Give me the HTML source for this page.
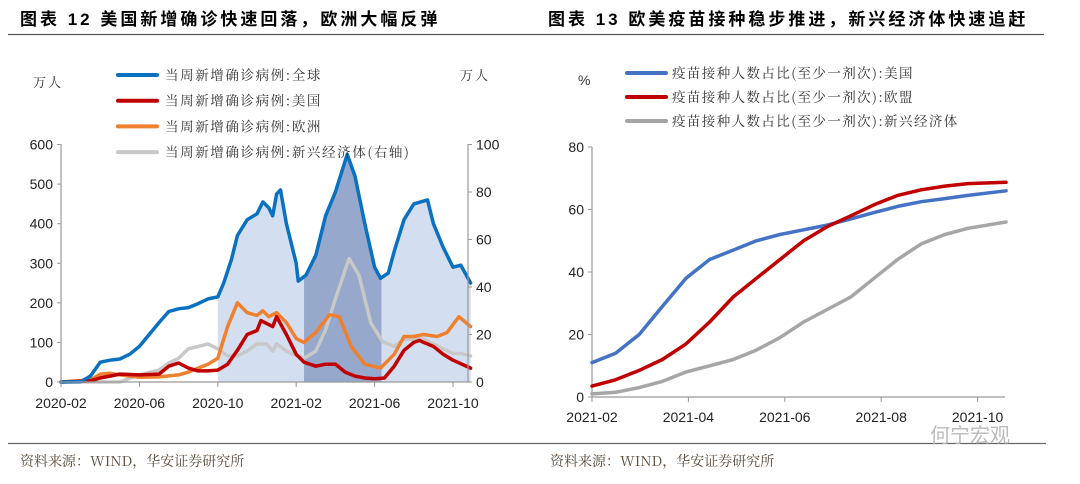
<!DOCTYPE html>
<html><head><meta charset="utf-8"><style>
body{margin:0;background:#fff;}
svg text{font-family:"Liberation Sans","Noto Sans CJK SC",sans-serif;}
.cjk{font-family:"Noto Serif CJK SC","Liberation Serif",serif;}
</style></head><body>
<svg id="s" width="1080" height="479" viewBox="0 0 1080 479" xmlns="http://www.w3.org/2000/svg">
<text x="20" y="25" font-size="17" font-weight="bold" letter-spacing="3">图表 12 美国新增确诊快速回落，欧洲大幅反弹</text>
<text x="548" y="25" font-size="17" font-weight="bold" letter-spacing="3">图表 13 欧美疫苗接种稳步推进，新兴经济体快速追赶</text>
<line x1="8" y1="34.5" x2="1044" y2="34.5" stroke="#555" stroke-width="1.2"/>
<line x1="8" y1="443.5" x2="1046" y2="443.5" stroke="#666" stroke-width="1.2"/>
<text x="20" y="466" font-size="14" fill="#5a4a3a" class="cjk">资料来源：WIND，华安证券研究所</text>
<text x="550" y="466" font-size="14" fill="#5a4a3a" class="cjk">资料来源：WIND，华安证券研究所</text>
<text x="930" y="442" font-size="20" fill="#bbb">何宁宏观</text>
<g id="L"></g>
<g id="R"></g>
</svg>
<script>
// ---- Left chart data (t = months since 2020-02) ----
const blueT=[0,1,1.5,2,2.5,3,3.5,4,4.5,5,5.5,6,6.5,7,7.5,8,8.3,8.7,9,9.5,10,10.3,10.6,10.8,11,11.2,11.5,12,12.1,12.5,13,13.5,14,14.6,15,15.5,16,16.3,16.7,17,17.5,18,18.7,19,19.5,20,20.4,20.9];
const blueV=[0,1,15,50,55,58,70,90,120,150,178,185,188,198,210,215,250,310,370,410,425,455,440,420,475,485,400,300,255,270,320,420,480,575,520,400,290,262,275,330,410,450,460,400,340,290,295,250];
const redT=[0,1.5,2,2.5,3,4,5,5.5,6,6.5,7,7.5,8,8.5,9,9.5,10,10.2,10.8,11,11.5,12,12.4,13,13.5,14,14.5,15,15.5,16,16.5,17,17.5,18,18.3,18.5,19,19.5,20,20.9];
const redV=[0,3,10,15,20,18,20,40,48,35,28,28,30,45,80,120,130,155,140,165,120,70,50,40,45,45,25,15,10,8,10,40,80,100,105,100,90,70,55,35];
const orangeT=[0,1.5,2,2.5,3,4,5,6,6.5,7,7.5,8,8.5,9,9.5,10,10.3,10.6,11,11.5,12,12.4,13,13.7,14.2,14.8,15.5,16.3,17,17.5,18,18.5,19.2,19.7,20.3,20.9];
const orangeV=[0,5,20,22,18,12,13,18,25,35,45,60,140,200,175,168,180,165,175,150,110,100,125,170,165,90,45,35,70,115,115,120,115,125,165,140];
const grayT=[0,3,4,5,5.5,6,6.5,7,7.5,8,8.5,9,9.5,10,10.5,10.8,11,11.5,12,12.4,13,13.5,14,14.7,15.2,15.8,16.4,17,17.5,18,18.5,19,19.5,20,20.4,20.9];
const grayV=[0,0,3,5,8,10,14,15,16,14,11,11,13,16,16,13,16,13,11,10,13,22,35,52,45,25,17,15,18,18,18,16,14,12,12,11];
const leftTicks=[0,100,200,300,400,500,600];
const rightTicks=[0,20,40,60,80,100];
const leftXLabels=["2020-02","2020-06","2020-10","2021-02","2021-06","2021-10"];
const lightStart=8, darkStart=12.4, darkEnd=16.35;

// ---- Right chart data (t = months since 2021-02) ----
const usT=[0,0.49,0.98,1.46,1.95,2.44,2.93,3.41,3.9,4.39,4.88,5.37,5.85,6.34,6.83,7.32,7.8,8.59];
const usV=[11,14,20,29,38,44,47,50,52,53.5,55,57,59,61,62.5,63.5,64.5,66];
const euT=[0,0.49,0.98,1.46,1.95,2.44,2.93,3.41,3.9,4.39,4.88,5.37,5.85,6.34,6.83,7.32,7.8,8.59];
const euV=[3.5,5.5,8.5,12,17,24,32,38,44,50,54.5,58,61.5,64.5,66.3,67.5,68.3,68.7];
const emT=[0,0.49,0.98,1.46,1.95,2.44,2.93,3.41,3.9,4.39,4.88,5.37,5.85,6.34,6.83,7.32,7.8,8.59];
const emV=[1,1.5,3,5,8,10,12,15,19,24,28,32,38,44,49,52,54,56];
const vTicks=[0,20,40,60,80];
const vXLabels=["2021-02","2021-04","2021-06","2021-08","2021-10"];

const NS="http://www.w3.org/2000/svg";
function mk(parent,tag,attrs,text){const e=document.createElementNS(NS,tag);for(const k in attrs)e.setAttribute(k,attrs[k]);if(text!==undefined)e.textContent=text;parent.appendChild(e);return e;}
function interp(T,V,t){if(t<=T[0])return V[0];for(let i=1;i<T.length;i++){if(t<=T[i]){const f=(t-T[i-1])/(T[i]-T[i-1]);return V[i-1]+f*(V[i]-V[i-1]);}}return V[V.length-1];}

// Left scales
const lx=t=>61+19.6*t, ly=v=>382-v*(237.5/600), ry=v=>382-v*(237.5/100);
const L=document.getElementById('L');
function areaPath(a,b){let d=`M${lx(a)},${ly(0)}`;const pts=[a,...blueT.filter(t=>t>a&&t<b),b];pts.forEach(t=>{d+=` L${lx(t)},${ly(interp(blueT,blueV,t))}`});d+=` L${lx(b)},${ly(0)} Z`;return d;}
let e=mk(L,'path',{d:areaPath(lightStart,20.9),fill:'#d3dff0'});


e=mk(L,'path',{d:areaPath(darkStart,darkEnd),fill:'#96a9cc'});


function line(g,T,V,xf,yf,color,name,w){const d=T.map((t,i)=>(i?'L':'M')+xf(t).toFixed(1)+','+yf(V[i]).toFixed(1)).join(' ');const p=mk(g,'path',{d:d,fill:'none',stroke:color,'stroke-width':w,'stroke-linejoin':'round','stroke-linecap':'round'});}
line(L,grayT,grayV,lx,ry,'#c8c8c8','line-emerging',3.5);
line(L,orangeT,orangeV,lx,ly,'#ef8030','line-europe',3.5);
line(L,redT,redV,lx,ly,'#c00000','line-us',3.5);
line(L,blueT,blueV,lx,ly,'#0a70c0','line-global',3.5);
mk(L,'line',{x1:61,y1:144,x2:61,y2:382,stroke:'#999','stroke-width':1.2});
mk(L,'line',{x1:468,y1:144,x2:468,y2:382,stroke:'#999','stroke-width':1.2});
mk(L,'line',{x1:61,y1:382,x2:470,y2:382,stroke:'#999','stroke-width':1.2});
leftTicks.forEach(v=>{mk(L,'line',{x1:57,y1:ly(v),x2:61,y2:ly(v),stroke:'#999'});const t=mk(L,'text',{x:53,y:ly(v)+5,'text-anchor':'end','font-size':14,fill:'#222'},v);});
rightTicks.forEach(v=>{mk(L,'line',{x1:468,y1:ry(v),x2:472,y2:ry(v),stroke:'#999'});const t=mk(L,'text',{x:476,y:ry(v)+5,'font-size':14,fill:'#222'},v);});
leftXLabels.forEach((s,i)=>{const x=lx(i*4);mk(L,'line',{x1:x,y1:382,x2:x,y2:387,stroke:'#999'});const t=mk(L,'text',{x:x,y:408,'text-anchor':'middle','font-size':14,fill:'#222'},s);});
e=mk(L,'text',{x:33,y:87,'font-size':13,fill:'#333',class:'cjk','letter-spacing':2},'万人');


e=mk(L,'text',{x:460,y:80,'font-size':13,fill:'#333',class:'cjk','letter-spacing':2},'万人');


const legL=[['#0a70c0','当周新增确诊病例:全球'],['#c00000','当周新增确诊病例:美国'],['#ef8030','当周新增确诊病例:欧洲'],['#c8c8c8','当周新增确诊病例:新兴经济体(右轴)']];
legL.forEach((l,i)=>{const y=75+i*25.7;mk(L,'line',{x1:118,y1:y,x2:157,y2:y,stroke:l[0],'stroke-width':4,'stroke-linecap':'round'});const t=mk(L,'text',{x:165,y:y+5,'font-size':13.5,fill:'#333',class:'cjk','letter-spacing':1.6},l[1]);});

// Right chart
const R=document.getElementById('R');
const vx=t=>592+48.2*t, vy=v=>397-v*(250/80);
mk(R,'line',{x1:592,y1:147,x2:592,y2:397,stroke:'#999','stroke-width':1.2});
mk(R,'line',{x1:592,y1:397,x2:1005,y2:397,stroke:'#999','stroke-width':1.2});
vTicks.forEach(v=>{mk(R,'line',{x1:588,y1:vy(v),x2:592,y2:vy(v),stroke:'#999'});const t=mk(R,'text',{x:584,y:vy(v)+5,'text-anchor':'end','font-size':14,fill:'#222'},v);});
vXLabels.forEach((s,i)=>{const x=vx(i*2);mk(R,'line',{x1:x,y1:397,x2:x,y2:402,stroke:'#999'});const t=mk(R,'text',{x:x,y:422,'text-anchor':'middle','font-size':14,fill:'#222'},s);});
line(R,emT,emV,vx,vy,'#a6a6a6','line-vaccine-emerging',3.5);
line(R,usT,usV,vx,vy,'#4472c4','line-vaccine-us',3.5);
line(R,euT,euV,vx,vy,'#c00000','line-vaccine-eu',3.5);
e=mk(R,'text',{x:578,y:85,'font-size':14,fill:'#333'},'%');


const legR=[['#4472c4','疫苗接种人数占比(至少一剂次):美国'],['#c00000','疫苗接种人数占比(至少一剂次):欧盟'],['#a6a6a6','疫苗接种人数占比(至少一剂次):新兴经济体']];
legR.forEach((l,i)=>{const y=73+i*24;mk(R,'line',{x1:627,y1:y,x2:666,y2:y,stroke:l[0],'stroke-width':4,'stroke-linecap':'round'});const t=mk(R,'text',{x:672,y:y+5,'font-size':13.5,fill:'#333',class:'cjk','letter-spacing':1.4},l[1]);});
</script>
</body></html>
